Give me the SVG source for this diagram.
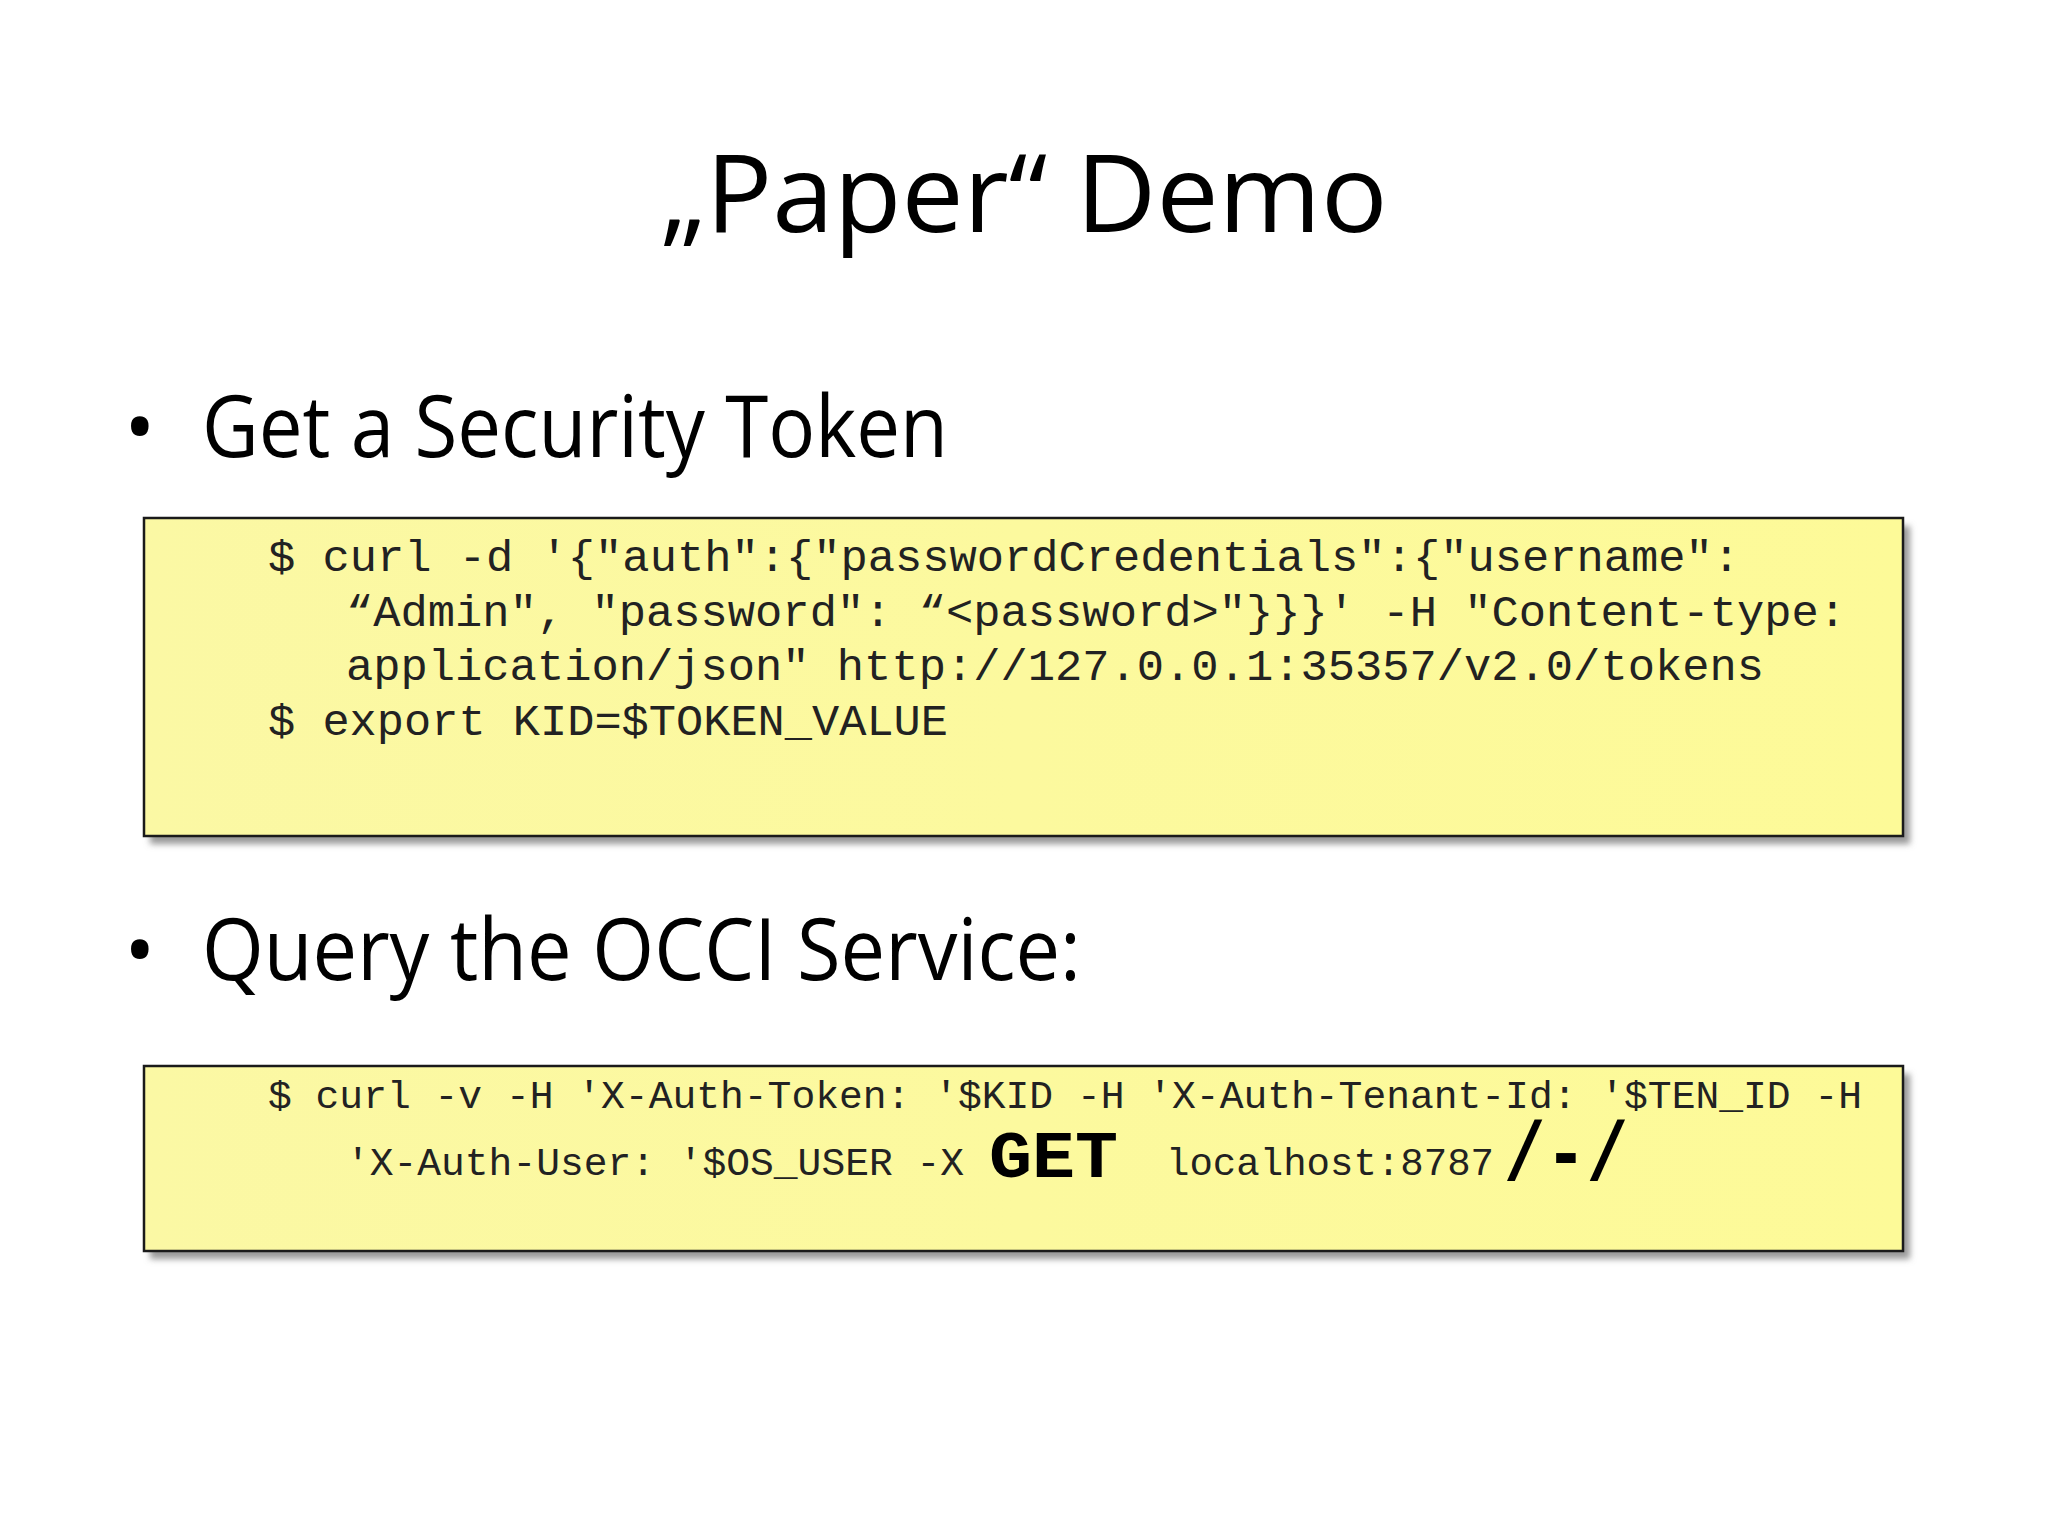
<svg xmlns="http://www.w3.org/2000/svg" width="2048" height="1536" viewBox="0 0 2048 1536">
<defs>
<linearGradient id="yg" x1="0" y1="0" x2="1" y2="0"><stop offset="0" stop-color="#fbf8a4"/><stop offset="1" stop-color="#fdfa98"/></linearGradient>
<filter id="sh" x="-5%" y="-5%" width="110%" height="120%"><feGaussianBlur stdDeviation="3"/></filter>
</defs>
<style>
.h{font-family:"Open Sans","Liberation Sans",sans-serif;fill:#000}
.c{font-family:"Liberation Mono","Courier New",monospace;fill:#222}
.box{fill:url(#yg);stroke:#1a1a1a;stroke-width:2.5}
.sd{fill:#999;filter:url(#sh)}
</style>
<rect width="2048" height="1536" fill="#fff"/>
<text class="h" x="1024" y="232" font-size="108" text-anchor="middle" textLength="727" lengthAdjust="spacingAndGlyphs">„Paper“ Demo</text>
<g id="bullet1">
<text class="h" x="124" y="457" font-size="84">•</text>
<text class="h" x="202" y="457" font-size="86" textLength="746" lengthAdjust="spacingAndGlyphs">Get a Security Token</text>
</g>
<g id="box1">
<rect class="sd" x="150" y="526" width="1760" height="318"/>
<rect class="box" x="144" y="518" width="1759" height="318"/>
<text class="c" font-size="45" x="268" y="571" textLength="1472" lengthAdjust="spacingAndGlyphs">$ curl -d '{"auth":{"passwordCredentials":{"username":</text>
<text class="c" font-size="45" x="346" y="626" textLength="1500" lengthAdjust="spacingAndGlyphs">“Admin", "password": “&lt;password&gt;"}}}' -H "Content-type:</text>
<text class="c" font-size="45" x="346" y="680" textLength="1418" lengthAdjust="spacingAndGlyphs">application/json" http://127.0.0.1:35357/v2.0/tokens</text>
<text class="c" font-size="45" x="268" y="735" textLength="680" lengthAdjust="spacingAndGlyphs">$ export KID=$TOKEN_VALUE</text>
</g>
<g id="bullet2">
<text class="h" x="124" y="980" font-size="84">•</text>
<text class="h" x="202" y="980" font-size="86" textLength="879" lengthAdjust="spacingAndGlyphs">Query the OCCI Service:</text>
</g>
<g id="box2">
<rect class="sd" x="150" y="1074" width="1760" height="185"/>
<rect class="box" x="144" y="1066" width="1759" height="185"/>
<text class="c" font-size="39.6" x="268" y="1108" textLength="1594" lengthAdjust="spacingAndGlyphs">$ curl -v -H 'X-Auth-Token: '$KID -H 'X-Auth-Tenant-Id: '$TEN_ID -H</text>
<text class="c" font-size="39.6" x="346" y="1175" textLength="618" lengthAdjust="spacingAndGlyphs">'X-Auth-User: '$OS_USER -X</text>
<text class="c" font-size="66" font-weight="bold" x="989" y="1177" textLength="129" lengthAdjust="spacingAndGlyphs" style="fill:#000">GET</text>
<text class="c" font-size="39.6" x="1166" y="1175" textLength="328" lengthAdjust="spacingAndGlyphs">localhost:8787</text>
<text class="c" font-size="84" font-weight="bold" x="1504" y="1180" textLength="124" lengthAdjust="spacingAndGlyphs" style="fill:#000">/-/</text>
</g>
</svg>
